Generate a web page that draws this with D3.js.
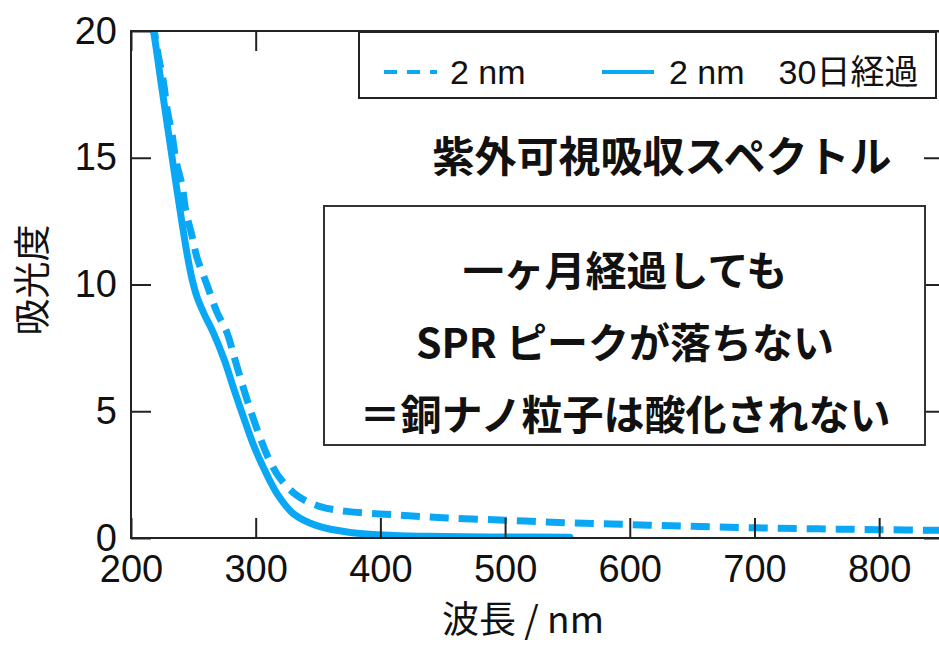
<!DOCTYPE html>
<html>
<head>
<meta charset="utf-8">
<script src="https://cdn.jsdelivr.net/npm/d3@7"></script>
<style>
  html, body { margin: 0; padding: 0; background: #fff; }
  svg { display: block; }
  text { font-family: "Liberation Sans", Arial, "Noto Sans CJK JP", sans-serif; fill: #111; }
  .jp { font-family: "Noto Sans CJK JP", "Liberation Sans", sans-serif; }
</style>
</head>
<body>
<svg id="chart" width="939" height="646"></svg>
<script>
// UV-Vis absorption spectra of 2 nm copper nanoparticles: fresh vs. after 30 days
const xTicks = [200, 300, 400, 500, 600, 700, 800];
const yTicks = [0, 5, 10, 15, 20];

// [wavelength (nm), absorbance]
const freshSpectrum = [
  [217, 20.4], [219, 19.9], [222, 19.0], [226, 18.0], [229, 16.9], [233, 15.9],
  [236, 14.9], [241, 13.9], [244, 12.9], [249, 11.9], [253, 11.05], [261, 9.98],
  [269, 8.9], [277, 8.1], [283, 7.1], [289, 6.1], [295, 5.16], [302, 4.17],
  [310, 3.18], [319, 2.39], [333, 1.68], [351, 1.25], [373, 1.05], [410, 0.92],
  [450, 0.8], [500, 0.7], [550, 0.6], [600, 0.53], [650, 0.46], [700, 0.4],
  [750, 0.36], [800, 0.33], [852, 0.3]
];
const agedSpectrum = [
  [216, 20.4], [218, 20.0], [224, 18.0], [230, 16.0], [236, 14.0], [241, 12.4],
  [245, 11.2], [249, 10.2], [253, 9.5], [259, 8.8], [266, 8.1], [275, 7.0],
  [283, 5.8], [290, 4.8], [298, 3.7], [306, 2.8], [317, 1.76], [330, 0.97],
  [349, 0.49], [376, 0.22], [410, 0.1], [450, 0.06], [500, 0.04], [552, 0.03]
];

const legendLabels = ["2 nm", "2 nm　30日経過"];
const titleText = "紫外可視吸収スペクトル";
const noteLines = ["一ヶ月経過しても", "SPR ピークが落ちない", "＝銅ナノ粒子は酸化されない"];

const blue = "#0aa8f4";
const ink = "#222";

const svg = d3.select("#chart");
const L = 131, R = 944, T = 31, B = 538;

const x = d3.scaleLinear().domain([200, 852]).range([L, R]);
const y = d3.scaleLinear().domain([0, 20]).range([B, T]);

svg.append("defs").append("clipPath").attr("id", "plotClip")
  .append("rect").attr("x", L).attr("y", T).attr("width", R - L).attr("height", B - T);

const line = d3.line()
  .x(d => x(d[0]))
  .y(d => y(d[1]))
  .curve(d3.curveCatmullRom.alpha(0.5));

const plot = svg.append("g").attr("clip-path", "url(#plotClip)");

plot.append("path")
  .datum(freshSpectrum)
  .attr("d", line)
  .attr("fill", "none")
  .attr("stroke", blue)
  .attr("stroke-width", 7)
  .attr("stroke-dasharray", "19,10");

plot.append("path")
  .datum(agedSpectrum)
  .attr("d", line)
  .attr("fill", "none")
  .attr("stroke", blue)
  .attr("stroke-width", 7)
  .attr("stroke-linecap", "round");

// Axes: ticks point inward on all four sides
const tickLen = 20;
const axisStyle = g => {
  g.select(".domain").remove();
  g.selectAll(".tick line").attr("stroke", ink).attr("stroke-width", 2);
};

svg.append("g").attr("transform", `translate(0,${B})`)
  .call(d3.axisBottom(x).tickValues(xTicks).tickSize(-tickLen).tickPadding(17).tickFormat(d3.format("d")))
  .call(axisStyle)
  .call(g => g.selectAll(".tick text").attr("font-size", 38).attr("fill", "#111")
    .attr("font-family", "'Liberation Sans', Arial, sans-serif"));

svg.append("g").attr("transform", `translate(0,${T})`)
  .call(d3.axisTop(x).tickValues(xTicks).tickSize(-tickLen).tickFormat(""))
  .call(axisStyle);

svg.append("g").attr("transform", `translate(${L},0)`)
  .call(d3.axisLeft(y).tickValues(yTicks).tickSize(-tickLen).tickPadding(14).tickFormat(d3.format("d")))
  .call(axisStyle)
  .call(g => g.selectAll(".tick text").attr("font-size", 38).attr("fill", "#111")
    .attr("font-family", "'Liberation Sans', Arial, sans-serif"));

svg.append("g").attr("transform", `translate(${R},0)`)
  .call(d3.axisRight(y).tickValues(yTicks).tickSize(-tickLen).tickFormat(""))
  .call(axisStyle);

// Frame
svg.append("rect")
  .attr("x", L).attr("y", T).attr("width", R - L).attr("height", B - T)
  .attr("fill", "none").attr("stroke", ink).attr("stroke-width", 2);

// Axis titles
svg.append("text").attr("class", "jp")
  .attr("x", 523).attr("y", 633)
  .attr("text-anchor", "middle")
  .attr("font-size", 37)
  .text("波長 / nm");

svg.append("text").attr("class", "jp")
  .attr("transform", "translate(46,280) rotate(-90)")
  .attr("text-anchor", "middle")
  .attr("font-size", 37)
  .text("吸光度");

// Legend
const lg = svg.append("g");
lg.append("rect")
  .attr("x", 359).attr("y", 32).attr("width", 577).attr("height", 66)
  .attr("fill", "#fff").attr("stroke", ink).attr("stroke-width", 2);
lg.append("line")
  .attr("x1", 384).attr("x2", 437).attr("y1", 72).attr("y2", 72)
  .attr("stroke", blue).attr("stroke-width", 4).attr("stroke-dasharray", "13,10");
lg.append("text").attr("x", 450).attr("y", 84).attr("font-size", 34).text(legendLabels[0]);
lg.append("line")
  .attr("x1", 602).attr("x2", 654).attr("y1", 72).attr("y2", 72)
  .attr("stroke", blue).attr("stroke-width", 4);
lg.append("text").attr("x", 669).attr("y", 84).attr("font-size", 34).attr("xml:space", "preserve")
  .text(legendLabels[1]);

// Title
svg.append("text").attr("class", "jp")
  .attr("x", 662).attr("y", 153)
  .attr("dominant-baseline", "central")
  .attr("text-anchor", "middle")
  .attr("font-size", 42).attr("font-weight", "bold")
  .text(titleText);

// Annotation box
svg.append("rect")
  .attr("x", 324).attr("y", 206).attr("width", 601).attr("height", 239)
  .attr("fill", "#fff").attr("stroke", "#333").attr("stroke-width", 2);
svg.append("g").selectAll("text").data(noteLines).join("text")
  .attr("class", "jp")
  .attr("x", 625)
  .attr("y", (d, i) => 268 + i * 72)
  .attr("dominant-baseline", "central")
  .attr("text-anchor", "middle")
  .attr("font-size", 41).attr("font-weight", "bold")
  .text(d => d);
</script>
</body>
</html>
